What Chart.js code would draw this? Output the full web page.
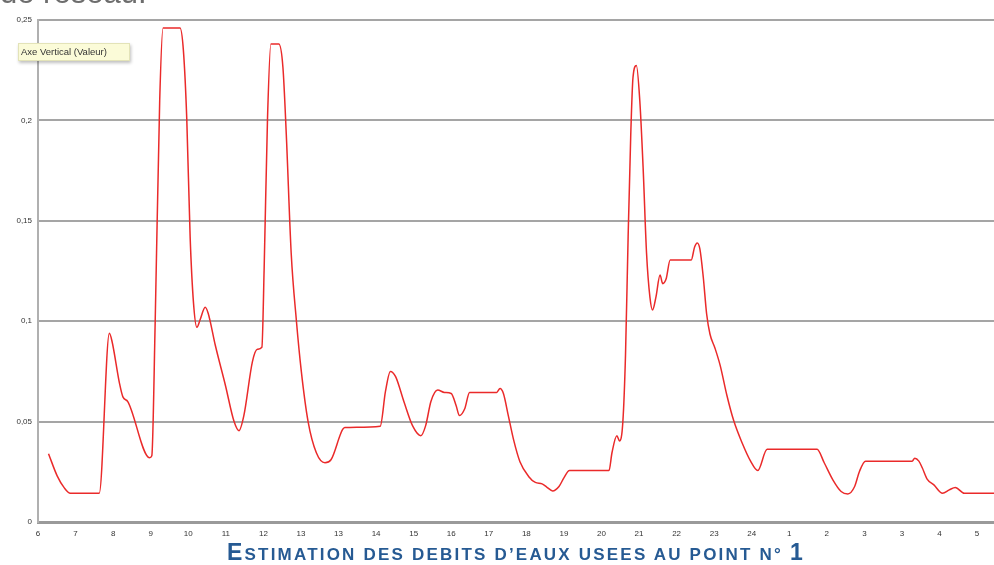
<!DOCTYPE html>
<html>
<head>
<meta charset="utf-8">
<script src="https://cdn.jsdelivr.net/npm/chart.js@4.4.1/dist/chart.umd.min.js"></script>
<style>
  body { margin: 0; background: #fff; }
  #wrap { position: relative; width: 994px; height: 565px; overflow: hidden; }
  #top-text { position: absolute; left: 0; top: -25px; font: 31px "Liberation Sans", Arial, sans-serif; color: #6d6d6d; }
  #axis-note {
    position: absolute; left: 18px; top: 43px; width: 108px; height: 16px;
    background: #fbfbd8; border: 1px solid #e3e3b8; box-shadow: 1px 2px 3px rgba(0,0,0,0.25);
    font: 9.5px "Liberation Sans", Arial, sans-serif; color: #333; line-height: 16px; padding-left: 2px;
  }
  #title {
    position: absolute; left: 227px; top: 541px; white-space: nowrap; line-height: 23px;
    font-family: "Liberation Sans", Arial, sans-serif; font-weight: bold; letter-spacing: 2.2px; color: #265a93;
  }
  #title .big { font-size: 23px; }
  #title .small { font-size: 17px; }
</style>
</head>
<body>
<div id="wrap">
  <canvas id="chart" width="994" height="565"></canvas>
  <div id="top-text">de réseau.</div>
  <div id="axis-note">Axe Vertical (Valeur)</div>
  <div id="title"><span class="big">E</span><span class="small">STIMATION DES DEBITS D’EAUX USEES AU POINT N° </span><span class="big">1</span></div>
</div>
<script>
// hour labels under the axis, one per tick
const hourLabels = ['6','7','8','9','10','11','12','13','13','14','15','16','17','18','19','20','21','22','23','24','1','2','3','3','4','5'];

// position along the axis (in tick units) and flow
const hourPos = [
  0.28, 0.51, 0.70, 0.86, 1.63, 1.90, 1.97, 2.17, 2.26, 2.39, 2.97, 3.03, 3.12, 3.24, 3.33, 3.78,
  3.87, 3.96, 4.05, 4.14, 4.23, 4.32, 4.45, 4.53, 4.72, 4.99, 5.22, 5.35, 5.48, 5.71, 5.84, 5.96,
  6.02, 6.11, 6.20, 6.41, 6.52, 6.61, 6.74, 6.88, 7.01, 7.19, 7.41, 7.64, 7.80, 8.17, 9.11, 9.25,
  9.38, 9.52, 9.74, 9.97, 10.19, 10.32, 10.46, 10.64, 10.82, 11.00, 11.13, 11.22, 11.36, 11.49, 12.21, 12.30,
  12.39, 12.52, 12.66, 12.83, 13.06, 13.24, 13.42, 13.55, 13.70, 13.87, 14.00, 14.15, 15.20, 15.28, 15.41, 15.48,
  15.57, 15.64, 15.71, 15.78, 15.84, 15.93, 16.02, 16.11, 16.20, 16.29, 16.36, 16.45, 16.56, 16.63, 16.72, 16.83,
  17.39, 17.48, 17.55, 17.62, 17.71, 17.80, 17.89, 18.02, 18.16, 18.34, 18.52, 18.74, 18.97, 19.16, 19.41, 20.74,
  20.93, 21.16, 21.38, 21.56, 21.74, 21.87, 22.03, 23.27, 23.34, 23.45, 23.54, 23.67, 23.85, 24.08, 24.26, 24.42,
  24.66, 25.45
];
const flow = [
  0.034, 0.023, 0.017, 0.0143, 0.0143, 0.094, 0.090, 0.069, 0.0623, 0.060, 0.032, 0.033, 0.100, 0.210, 0.246, 0.246,
  0.235, 0.201, 0.142, 0.109, 0.097, 0.101, 0.107, 0.104, 0.088, 0.068, 0.050, 0.0455, 0.053, 0.080, 0.086, 0.087,
  0.126, 0.201, 0.238, 0.238, 0.2265, 0.193, 0.134, 0.100, 0.075, 0.050, 0.0345, 0.0295, 0.031, 0.047, 0.0477, 0.065,
  0.075, 0.0724, 0.060, 0.048, 0.043, 0.048, 0.060, 0.0657, 0.0645, 0.064, 0.058, 0.053, 0.0564, 0.0645, 0.0645, 0.0665,
  0.064, 0.053, 0.041, 0.030, 0.0227, 0.0197, 0.019, 0.0173, 0.0155, 0.0177, 0.022, 0.0256, 0.0256, 0.0345, 0.043, 0.0404,
  0.050, 0.083, 0.142, 0.193, 0.2215, 0.2273, 0.210, 0.176, 0.134, 0.112, 0.1056, 0.112, 0.123, 0.1187, 0.121, 0.1305,
  0.1305, 0.137, 0.139, 0.136, 0.122, 0.1036, 0.0935, 0.0867, 0.078, 0.063, 0.0505, 0.0396, 0.0303, 0.0256, 0.0362, 0.0362,
  0.0295, 0.021, 0.0152, 0.014, 0.0177, 0.0253, 0.0303, 0.0303, 0.0317, 0.0303, 0.027, 0.0214, 0.0185, 0.0143, 0.016, 0.0172,
  0.0143, 0.0143
];

const points = hourPos.map((x, i) => ({ x: x, y: flow[i] }));
const tickFont = { family: '"Liberation Sans", Arial, sans-serif', size: 8 };

new Chart(document.getElementById('chart'), {
  type: 'line',
  data: {
    datasets: [{
      data: points,
      borderColor: '#ea2a2a',
      borderWidth: 1.5,
      pointRadius: 0,
      cubicInterpolationMode: 'monotone',
      fill: false
    }]
  },
  options: {
    responsive: false,
    devicePixelRatio: 1,
    animation: false,
    layout: { padding: { top: 20, right: 0, bottom: 23, left: 0 } },
    plugins: { legend: { display: false }, tooltip: { enabled: false } },
    scales: {
      x: {
        type: 'linear',
        min: 0,
        max: 25.45,
        afterBuildTicks: (scale) => { scale.ticks = hourLabels.map((_, i) => ({ value: i })); },
        afterFit: (scale) => { scale.height = 20; },
        grid: { display: false, drawTicks: false },
        border: { color: '#9a9a9a', width: 3 },
        ticks: {
          autoSkip: false,
          maxRotation: 0,
          padding: 7,
          color: '#333',
          font: tickFont,
          callback: (v) => hourLabels[v]
        }
      },
      y: {
        min: 0,
        max: 0.25,
        afterFit: (scale) => { scale.width = 38; },
        grid: { color: '#a5a5a5', lineWidth: 2, drawTicks: false },
        border: { color: '#b0b0b0', width: 2 },
        ticks: {
          stepSize: 0.05,
          padding: 6,
          color: '#333',
          font: tickFont,
          callback: (v) => String(Math.round(v * 100) / 100).replace('.', ',')
        }
      }
    }
  }
});
</script>
</body>
</html>
